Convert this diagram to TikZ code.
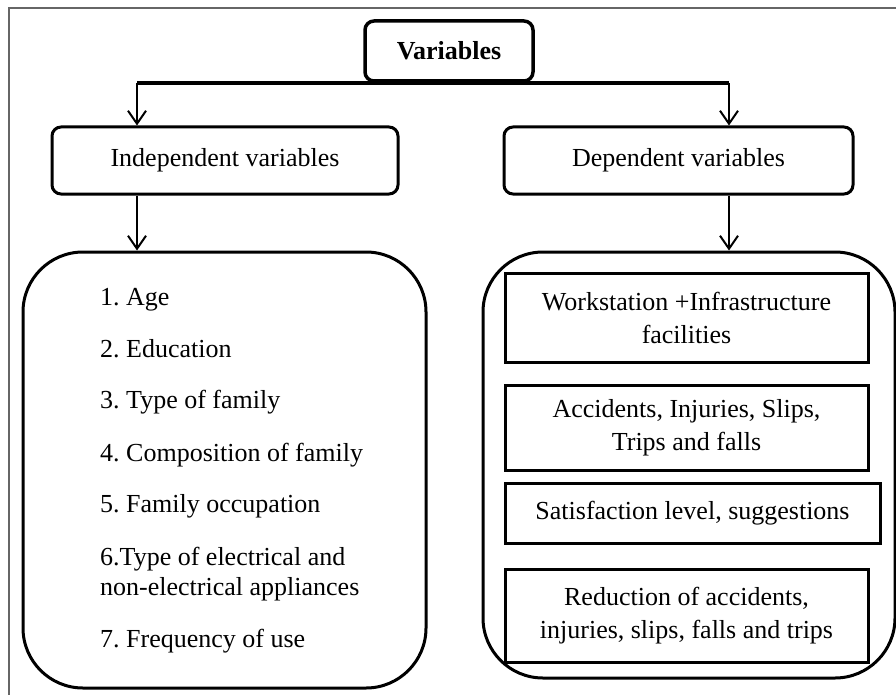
\documentclass[tikz,border=0pt]{standalone}
\usepackage{fontspec}
\setmainfont{Liberation Serif}
\usetikzlibrary{arrows.meta, positioning}

\begin{document}
\begin{tikzpicture}[
  x=1pt, y=-1pt,
  font=\fontsize{26}{33}\selectfont\frenchspacing,
  topbox/.style={rectangle, rounded corners=9pt, draw, line width=3.5pt, minimum width=168pt, minimum height=60pt, font=\fontsize{26}{33}\selectfont\bfseries},
  headbox/.style={rectangle, rounded corners=9pt, draw, line width=3pt, minimum height=67pt},
  bigbox/.style={rectangle, rounded corners=60pt, draw, line width=3pt},
  itembox/.style={rectangle, draw, line width=3pt, align=center, inner sep=0pt, minimum width=363pt},
  item/.style={anchor=base west, align=left, inner sep=0pt},
  bus/.style={line width=3.5pt},
  arr/.style={-{Straight Barb[length=13pt, width=18pt]}, line width=2pt}
]
\useasboundingbox (0,0) rectangle (896,695);
% page frame
\draw[black!60, line width=1.2pt] (9,695) -- (9,8) -- (896,8);

\node[topbox] (var) at (449,51) {Variables};
\node[headbox, minimum width=346pt] (ind) at (225,160.5) {Independent variables};
\node[headbox, minimum width=349pt] (dep) at (678.5,160.5) {Dependent variables};

\node[bigbox, minimum width=403pt, minimum height=436pt] (lbox) at (224.5,470) {};
\node[bigbox, minimum width=412pt, minimum height=426pt] (rbox) at (689,465) {};

% independent variables
\foreach \yb/\txt [count=\k] in {305/{1. Age}, 357/{2. Education}, 408/{3. Type of family},
    461/{4. Composition of family}, 512/{5. Family occupation},
    595/{6.Type of electrical and\\[-3pt]non-electrical appliances}, 647/{7. Frequency of use}}
  \node[item] (i\k) at (100,\yb) {\txt};

% dependent variables
\node[itembox, minimum height=89pt] (w1) at (686.5,317.5) {Workstation +Infrastructure\\facilities};
\node[itembox, minimum height=85pt, below=20pt of w1.south west, anchor=north west] (w2) {Accidents, Injuries, Slips,\\Trips and falls};
\node[itembox, minimum height=60pt, minimum width=375pt, below=10pt of w2.south west, anchor=north west] (w3) {Satisfaction level, suggestions};
\node[itembox, minimum height=93pt, below=23pt of w3.south west, anchor=north west] (w4) {Reduction of accidents,\\injuries, slips, falls and trips};

\coordinate (busL) at (137,83);
\coordinate (busR) at (729,83);
\draw[bus] (busL) -- (busR);
\draw[arr] (busL) -- (busL |- ind.north);
\draw[arr] (busR) -- (busR |- dep.north);
\draw[arr] (busL |- ind.south) -- (busL |- lbox.north);
\draw[arr] (busR |- dep.south) -- (busR |- rbox.north);
\end{tikzpicture}
\end{document}
